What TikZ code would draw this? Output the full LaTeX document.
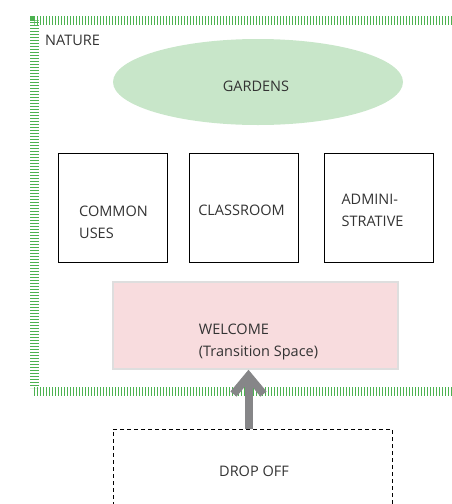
\documentclass[tikz,border=0pt]{standalone}
\usepackage{fontspec}
\setmainfont{Open Sans}
\usepackage{tikz}
\usepackage{xcolor}
\usetikzlibrary{shapes.geometric, arrows.meta, positioning, calc}
\definecolor{cNature}{RGB}{76,178,80}
\definecolor{cGarden}{RGB}{200,230,201}
\definecolor{cWelcome}{RGB}{248,220,222}
\definecolor{cEdge}{RGB}{222,222,222}
\definecolor{cArrow}{RGB}{134,134,136}
\definecolor{cText}{RGB}{51,51,51}
\tikzset{
	txt/.style       ={text=cText, align=left, inner sep=0pt, font=\fontsize{14.5}{22}\selectfont},
	naturebd/.style  ={cNature, line width=9pt, dash pattern=on 1.3pt off 1.7pt},
	garden/.style    ={ellipse, fill=cGarden, draw=none, minimum width=290pt, minimum height=86pt, inner sep=0pt},
	roombox/.style   ={rectangle, draw=black, thick, minimum width=109pt, minimum height=109pt, inner sep=0pt},
	welcomebox/.style={rectangle, draw=cEdge, line width=1.5pt, fill=cWelcome, minimum width=285pt, minimum height=87pt, inner sep=0pt},
	dropbox/.style   ={rectangle, draw=black, line width=1pt, dash pattern=on 4pt off 3pt, minimum width=279pt, minimum height=90pt, inner sep=0pt},
	entryarrow/.style={-{Straight Barb[length=18pt, width=30pt]}, cArrow, line width=8pt},
}
\begin{document}
\begin{tikzpicture}[x=1pt, y=-1pt]
	\useasboundingbox (0,0) rectangle (452,504);
	% nature border, open to the right
	\draw[naturebd] (452,20) -- (34,20) -- (34,388);
	\draw[naturebd] (34,391.5) -- (452,391.5);
	\node[txt, anchor=west] (nature) at (45,40) {NATURE};
	% gardens
	\node[garden] (gardens) at (258,82) {};
	\node[txt] (gardenstxt) at (256,86.5) {GARDENS};
	% rooms
	\node[roombox] (common) at (112.5,207.5) {};
	\node[roombox, right=22pt of common] (classroom) {};
	\node[roombox, right=25pt of classroom] (admin) {};
	\node[txt] (commontxt) at (113.5,222) {COMMON\\USES};
	\node[txt] (classtxt) at (241.5,210) {CLASSROOM};
	\node[txt] (admintxt) at (372.5,210.5) {ADMINI-\\STRATIVE};
	% welcome and drop off
	\node[welcomebox] (welcome) at (255.5,325.5) {};
	\node[txt] (welcometxt) at (258.5,342) {WELCOME\\(Transition Space)};
	\node[dropbox] (drop) at (252.5,474) {};
	\node[txt] (droptxt) at (254,471) {DROP OFF};
	\draw[entryarrow] ([xshift=-4pt]drop.north) -- ([xshift=-4pt]drop.north |- welcome.south);
\end{tikzpicture}
\end{document}
